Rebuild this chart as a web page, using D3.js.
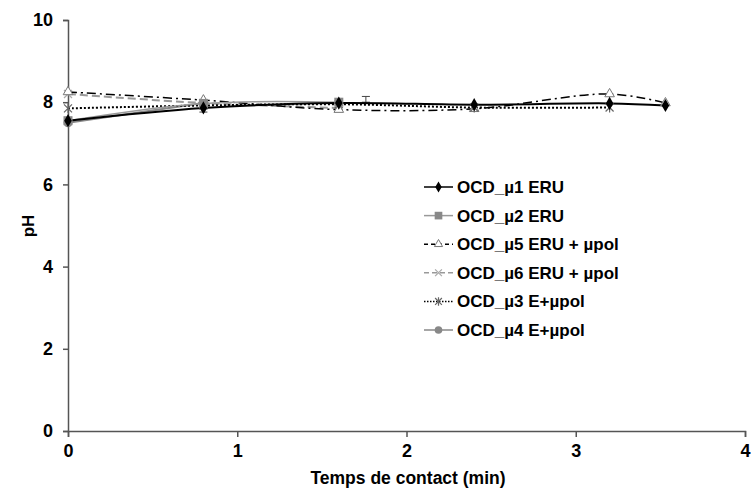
<!DOCTYPE html>
<html><head><meta charset="utf-8">
<script src="https://cdn.jsdelivr.net/npm/d3@7"></script>
<style>body{margin:0;background:#fff}svg{display:block}text{font-family:"Liberation Sans",Arial,sans-serif;font-weight:bold}</style>
</head><body>
<script>
const times = [0, 0.8, 1.6, 2.4, 3.2, 3.53];
const mu1 = [7.55, 7.86, 7.98, 7.94, 7.97, 7.92];
const mu2 = [7.55, 7.97, 8.0];
const mu5 = [8.25, 8.05, 7.82, 7.84, 8.2, 7.98];
const mu6 = [8.2, 7.98, 7.86];
const mu3 = [7.85, 7.92, 7.95, 7.87, 7.87];
const mu4 = [7.5, 7.98];
const labels = ["OCD_µ1 ERU","OCD_µ2 ERU","OCD_µ5 ERU + µpol","OCD_µ6 ERU + µpol","OCD_µ3 E+µpol","OCD_µ4 E+µpol"];
const errX = [1.76, 0.8];
const errLo = [8.0, 7.76];
const errHi = [8.14, 7.86];
const xTicks = [0,1,2,3,4];
const yTicks = [0,2,4,6,8,10];

const W=751,H=488;
const svg=d3.select("body").append("svg").attr("width",W).attr("height",H);
const x=d3.scaleLinear().domain([0,4]).range([68,745]);
const y=d3.scaleLinear().domain([0,10]).range([431,20]);

const axisCol="#555";
const gx=svg.append("g").attr("transform","translate(0,431)").call(d3.axisBottom(x).tickValues(xTicks).tickSize(6).tickPadding(7).tickFormat(d3.format("d")));
const gy=svg.append("g").attr("transform","translate(68,0)").call(d3.axisLeft(y).tickValues(yTicks).tickSize(5).tickPadding(10).tickFormat(d3.format("d")));
[gx,gy].forEach(g=>{g.select(".domain").attr("stroke",axisCol).attr("stroke-width",1.5);
 g.selectAll(".tick line").attr("stroke",axisCol).attr("stroke-width",1.5);
 g.selectAll(".tick text").attr("fill","#000").style("font-size","18px").style("font-weight","bold").style("font-family","Liberation Sans, Arial, sans-serif");});

svg.append("text").attr("x",408).attr("y",484).attr("text-anchor","middle").style("font-size","17.5px").text("Temps de contact (min)");
svg.append("text").attr("transform","translate(34,226) rotate(-90)").attr("text-anchor","middle").style("font-size","17px").text("pH");

const series=[
 {vals:mu1,label:labels[0],stroke:"#000",w:2,dash:null,marker:"diamond"},
 {vals:mu2,label:labels[1],stroke:"#999",w:1.5,dash:null,marker:"square"},
 {vals:mu5,label:labels[2],stroke:"#000",w:1.5,dash:"9,4,2,4",marker:"triangle"},
 {vals:mu6,label:labels[3],stroke:"#999",w:2,dash:"8,4",marker:"x"},
 {vals:mu3,label:labels[4],stroke:"#000",w:2,dash:"2,2",marker:"asterisk"},
 {vals:mu4,label:labels[5],stroke:"#888",w:2,dash:null,marker:"circle"}
];

const eg=svg.append("g").attr("stroke","#444").attr("stroke-width",1);
errX.forEach((ex,i)=>{
 eg.append("line").attr("x1",x(ex)).attr("x2",x(ex)).attr("y1",y(errLo[i])).attr("y2",y(errHi[i]));
 eg.append("line").attr("x1",x(ex)-4).attr("x2",x(ex)+4).attr("y1",y(errHi[i])).attr("y2",y(errHi[i]));
 eg.append("line").attr("x1",x(ex)-4).attr("x2",x(ex)+4).attr("y1",y(errLo[i])).attr("y2",y(errLo[i]));
});

const line=d3.line().x(d=>x(d[0])).y(d=>y(d[1])).curve(d3.curveCatmullRom.alpha(0.5));

function drawMarker(g,type,cx,cy,sc){
 sc=sc||1;
 if(type==="diamond") g.append("path").attr("d",d3.symbol(d3.symbolDiamond,50*sc*sc)()).attr("transform",`translate(${cx},${cy})`).attr("fill","#000");
 else if(type==="square") g.append("rect").attr("x",cx-4.5*sc).attr("y",cy-4.5*sc).attr("width",9*sc).attr("height",9*sc).attr("fill","#888");
 else if(type==="circle") g.append("circle").attr("cx",cx).attr("cy",cy).attr("r",4.5*sc).attr("fill","#888");
 else if(type==="triangle") g.append("path").attr("d",d3.symbol(d3.symbolTriangle,40*sc*sc)()).attr("transform",`translate(${cx},${cy})`).attr("fill","#fff").attr("stroke","#777").attr("stroke-width",1);
 else if(type==="x") g.append("path").attr("d",`M${cx-4*sc},${cy-4*sc}L${cx+4*sc},${cy+4*sc}M${cx-4*sc},${cy+4*sc}L${cx+4*sc},${cy-4*sc}`).attr("stroke","#aaa").attr("stroke-width",1.2);
 else if(type==="asterisk") g.append("path").attr("d",`M${cx-4*sc},${cy-4*sc}L${cx+4*sc},${cy+4*sc}M${cx-4*sc},${cy+4*sc}L${cx+4*sc},${cy-4*sc}M${cx},${cy-5*sc}L${cx},${cy+5*sc}`).attr("stroke","#666").attr("stroke-width",1.2);
}

const order=[5,3,2,4,1,0];
order.forEach(i=>{
 const s=series[i];
 const pts=s.vals.map((v,j)=>[times[j],v]);
 svg.append("path").datum(pts).attr("d",line).attr("fill","none").attr("stroke",s.stroke).attr("stroke-width",s.w).attr("stroke-dasharray",s.dash);
});
order.forEach(i=>{
 const s=series[i];
 const g=svg.append("g");
 s.vals.forEach((v,j)=>drawMarker(g,s.marker,x(times[j]),y(v)));
});

const lg=svg.append("g");
series.forEach((s,i)=>{
 const ly=187+i*28.6;
 lg.append("line").attr("x1",424).attr("x2",453).attr("y1",ly).attr("y2",ly).attr("stroke",s.stroke).attr("stroke-width",1.5).attr("stroke-dasharray",s.dash?(s.dash==="9,4,2,4"?"4,3":s.dash==="8,4"?"5,3":"1.5,1.5"):null);
 drawMarker(lg,s.marker,438.5,ly,0.85);
 lg.append("text").attr("x",457).attr("y",ly+6).style("font-size","17px").text(s.label);
});
</script>
</body></html>
